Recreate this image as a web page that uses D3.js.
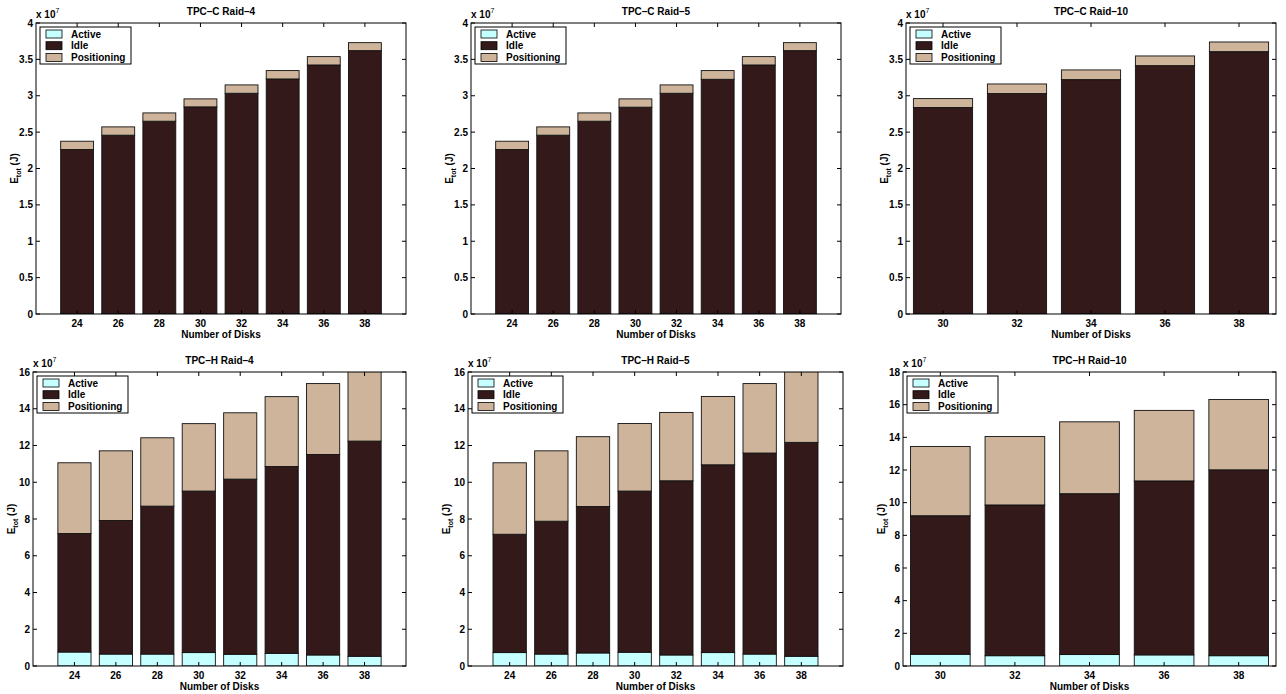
<html>
<script src='https://d3js.org/d3.v7.min.js'></script>
<style>
  body { margin: 0; background: #fff; }
  text { font-family: 'Liberation Sans', Arial, sans-serif; font-weight: bold; font-size: 10px; fill: #000; }
</style>
<body>
<svg width=1286 height=694></svg>
<script>
// values in units of 1e7 J
const disks8 = [24, 26, 28, 30, 32, 34, 36, 38];
const disks5 = [30, 32, 34, 36, 38];
const seriesNames = ['Active', 'Idle', 'Positioning'];
const seriesColors = ['#c6ffff', '#33191a', '#cdb49b'];

const yTicksC = [0, 0.5, 1, 1.5, 2, 2.5, 3, 3.5, 4];
const yTicksH = [0, 2, 4, 6, 8, 10, 12, 14, 16];
const yTicksH10 = [0, 2, 4, 6, 8, 10, 12, 14, 16, 18];

// TPC-C Raid-4
const cR4Active = [0.005, 0.005, 0.005, 0.005, 0.005, 0.005, 0.005, 0.005];
const cR4Idle = [2.256, 2.453, 2.645, 2.842, 3.029, 3.226, 3.418, 3.615];
const cR4Pos = [0.114, 0.114, 0.114, 0.110, 0.115, 0.115, 0.115, 0.110];
// TPC-C Raid-5
const cR5Active = [0.005, 0.005, 0.005, 0.005, 0.005, 0.005, 0.005, 0.005];
const cR5Idle = [2.256, 2.453, 2.645, 2.838, 3.029, 3.221, 3.418, 3.615];
const cR5Pos = [0.114, 0.114, 0.114, 0.114, 0.115, 0.120, 0.115, 0.110];
// TPC-C Raid-10
const cR10Active = [0.005, 0.005, 0.005, 0.005, 0.005];
const cR10Idle = [2.833, 3.025, 3.217, 3.409, 3.601];
const cR10Pos = [0.123, 0.132, 0.133, 0.133, 0.133];
// TPC-H Raid-4
const hR4Active = [0.76, 0.65, 0.65, 0.73, 0.64, 0.69, 0.60, 0.53];
const hR4Idle = [6.45, 7.27, 8.05, 8.79, 9.53, 10.17, 10.91, 11.71];
const hR4Pos = [3.85, 3.79, 3.72, 3.67, 3.61, 3.80, 3.86, 3.85];
// TPC-H Raid-5
const hR5Active = [0.73, 0.65, 0.71, 0.75, 0.60, 0.73, 0.65, 0.53];
const hR5Idle = [6.44, 7.23, 7.97, 8.77, 9.48, 10.22, 10.94, 11.64];
const hR5Pos = [3.89, 3.83, 3.80, 3.68, 3.72, 3.72, 3.78, 3.93];
// TPC-H Raid-10
const hR10Active = [0.72, 0.63, 0.70, 0.68, 0.63];
const hR10Idle = [8.48, 9.23, 9.85, 10.65, 11.38];
const hR10Pos = [4.24, 4.19, 4.40, 4.32, 4.31];

const panels = [
  {title: 'TPC–C Raid–4', left: 36, right: 406, top: 23, bottom: 314, disks: disks8, xdom: [22, 40], yticks: yTicksC, vals: [cR4Active, cR4Idle, cR4Pos]},
  {title: 'TPC–C Raid–5', left: 471, right: 841, top: 23, bottom: 314, disks: disks8, xdom: [22, 40], yticks: yTicksC, vals: [cR5Active, cR5Idle, cR5Pos]},
  {title: 'TPC–C Raid–10', left: 906, right: 1276, top: 23, bottom: 314, disks: disks5, xdom: [29, 39], yticks: yTicksC, vals: [cR10Active, cR10Idle, cR10Pos]},
  {title: 'TPC–H Raid–4', left: 33, right: 406, top: 372, bottom: 666, disks: disks8, xdom: [22, 40], yticks: yTicksH, vals: [hR4Active, hR4Idle, hR4Pos]},
  {title: 'TPC–H Raid–5', left: 468, right: 843, top: 372, bottom: 666, disks: disks8, xdom: [22, 40], yticks: yTicksH, vals: [hR5Active, hR5Idle, hR5Pos]},
  {title: 'TPC–H Raid–10', left: 903, right: 1276, top: 372, bottom: 666, disks: disks5, xdom: [29, 39], yticks: yTicksH10, vals: [hR10Active, hR10Idle, hR10Pos]}
];

var svg = d3.select('svg');

panels.forEach(function(p, pi) {
  var x = d3.scaleLinear().domain(p.xdom).range([p.left, p.right]);
  var ymax = p.yticks[p.yticks.length - 1];
  var y = d3.scaleLinear().domain([0, ymax]).range([p.bottom, p.top]);
  var bw = (x(p.disks[1]) - x(p.disks[0])) * 0.8;

  var rows = p.disks.map(function(d, i) {
    return {disk: d, Active: p.vals[0][i], Idle: p.vals[1][i], Positioning: p.vals[2][i]};
  });
  var stacked = d3.stack().keys(seriesNames)(rows);

  var g = svg.append('g');

  g.append('clipPath').attr('id', 'clip' + pi)
    .append('rect')
    .attr('x', p.left).attr('y', p.top)
    .attr('width', p.right - p.left).attr('height', p.bottom - p.top);

  var bars = g.append('g').attr('clip-path', 'url(#clip' + pi + ')');
  stacked.forEach(function(s, si) {
    bars.selectAll('rect.s' + si)
      .data(s)
      .enter()
      .append('rect')
      .attr('x', d => x(d.data.disk) - bw / 2)
      .attr('y', d => y(d[1]))
      .attr('width', bw)
      .attr('height', d => y(d[0]) - y(d[1]))
      .attr('fill', seriesColors[si])
      .attr('stroke', '#111')
      .attr('stroke-width', 0.9);
  });

  // axes box
  g.append('rect')
    .attr('x', p.left).attr('y', p.top)
    .attr('width', p.right - p.left).attr('height', p.bottom - p.top)
    .attr('fill', 'none').attr('stroke', '#000').attr('stroke-width', 1);

  // inward ticks
  var tl = 4;
  p.yticks.forEach(function(t) {
    g.append('line').attr('x1', p.left).attr('x2', p.left + tl).attr('y1', y(t)).attr('y2', y(t)).attr('stroke', '#000');
    g.append('line').attr('x1', p.right).attr('x2', p.right - tl).attr('y1', y(t)).attr('y2', y(t)).attr('stroke', '#000');
    g.append('text').attr('x', p.left - 3).attr('y', y(t) + 3.5).attr('text-anchor', 'end').text(t);
  });
  p.disks.forEach(function(d) {
    g.append('line').attr('x1', x(d)).attr('x2', x(d)).attr('y1', p.top).attr('y2', p.top + tl).attr('stroke', '#000');
    g.append('line').attr('x1', x(d)).attr('x2', x(d)).attr('y1', p.bottom).attr('y2', p.bottom - tl).attr('stroke', '#000');
    g.append('text').attr('x', x(d)).attr('y', p.bottom + 13).attr('text-anchor', 'middle').text(d);
  });

  var cx = (p.left + p.right) / 2;
  g.append('text').attr('x', cx).attr('y', p.top - 8).attr('text-anchor', 'middle').text(p.title);
  g.append('text').attr('x', cx).attr('y', p.bottom + 24).attr('text-anchor', 'middle').text('Number of Disks');

  // exponent label
  var ex = g.append('text').attr('x', p.left).attr('y', p.top - 5);
  ex.append('tspan').text('x 10');
  ex.append('tspan').attr('dy', -5).style('font-size', '7px').style('font-weight', 'normal').text('7');

  // y label
  var ly = (p.top + p.bottom) / 2;
  var yl = g.append('text')
    .attr('transform', 'translate(' + (p.left - 18) + ',' + ly + ') rotate(-90)')
    .attr('text-anchor', 'middle');
  yl.append('tspan').text('E');
  yl.append('tspan').attr('dy', 3).style('font-size', '7px').text('tot');
  yl.append('tspan').attr('dy', -3).text(' (J)');

  // legend
  var lg = g.append('g').attr('transform', 'translate(' + (p.left + 4) + ',' + (p.top + 4) + ')');
  lg.append('rect').attr('width', 91).attr('height', 37).attr('fill', '#fff').attr('stroke', '#000').attr('stroke-width', 1);
  seriesNames.forEach(function(n, i) {
    var cyy = 7 + i * 11.7;
    lg.append('rect').attr('x', 6).attr('y', cyy - 4).attr('width', 16).attr('height', 8)
      .attr('fill', seriesColors[i]).attr('stroke', '#000').attr('stroke-width', 0.8);
    lg.append('text').attr('x', 31).attr('y', cyy + 3.5).text(n);
  });
});
</script>
</body>
</html>
